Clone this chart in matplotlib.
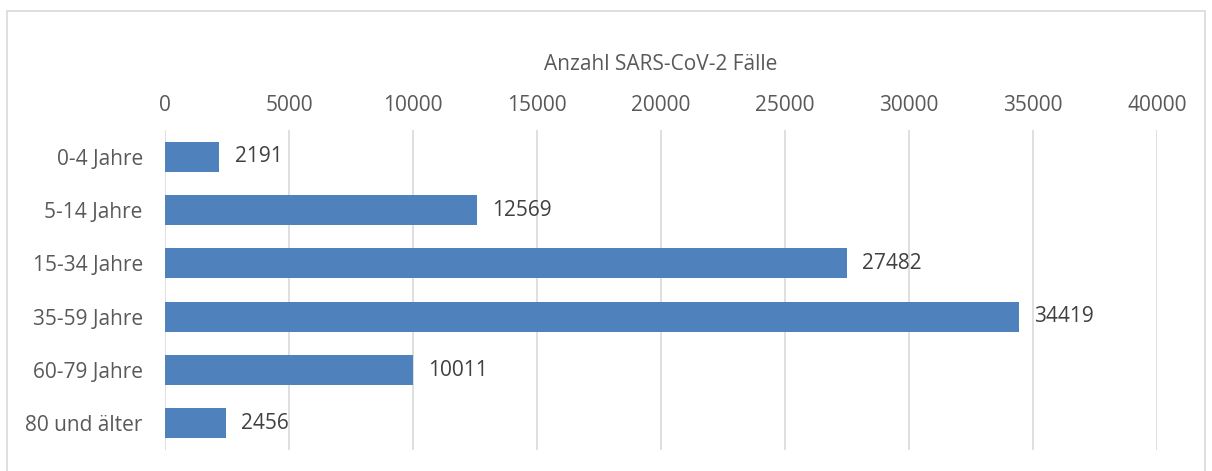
import matplotlib.pyplot as plt
from matplotlib.patches import Rectangle

# Altersgruppen und Fallzahlen
gruppen = ['0-4 Jahre', '5-14 Jahre', '15-34 Jahre', '35-59 Jahre', '60-79 Jahre', '80 und älter']
faelle = [2191, 12569, 27482, 34419, 10011, 2456]
ticks = [0, 5000, 10000, 15000, 20000, 25000, 30000, 35000, 40000]

plt.rcParams['font.family'] = ['Open Sans', 'DejaVu Sans']

fig = plt.figure(figsize=(12.12, 4.71), dpi=100)
ax = fig.add_axes([165/1212, 1 - 450/471, 992/1212, 320/471])

# Rahmen um das Diagramm
fig.patches.append(Rectangle((7/1212, -0.1), 1198/1212, 1.1 - 11/471,
                             transform=fig.transFigure, fill=False,
                             edgecolor='#d9d9d9', linewidth=1.2))

y = list(range(len(gruppen)))
ax.barh(y, faelle, height=0.56, color='#4f81bd', zorder=2)

for yi, v in zip(y, faelle):
    ax.annotate(str(v), (v, yi), xytext=(11, 0), textcoords='offset points',
                va='center', ha='left', fontsize=15, color='#404040')

ax.set_xlim(0, 40000)
ax.set_ylim(len(gruppen) - 0.5, -0.5)
ax.set_xticks(ticks)
ax.set_yticks(y)
ax.set_yticklabels(gruppen)
ax.xaxis.tick_top()
ax.xaxis.set_label_position('top')
ax.set_xlabel('Anzahl SARS-CoV-2 Fälle', fontsize=15, color='#595959', labelpad=18)
ax.tick_params(axis='x', length=0, pad=10, labelsize=15, labelcolor='#595959')
ax.tick_params(axis='y', length=0, pad=16, labelsize=15, labelcolor='#595959')
ax.grid(axis='x', color='#d9d9d9', linewidth=1.2, zorder=0)
for s in ax.spines.values():
    s.set_visible(False)

fig.savefig('out.png', dpi=100)
